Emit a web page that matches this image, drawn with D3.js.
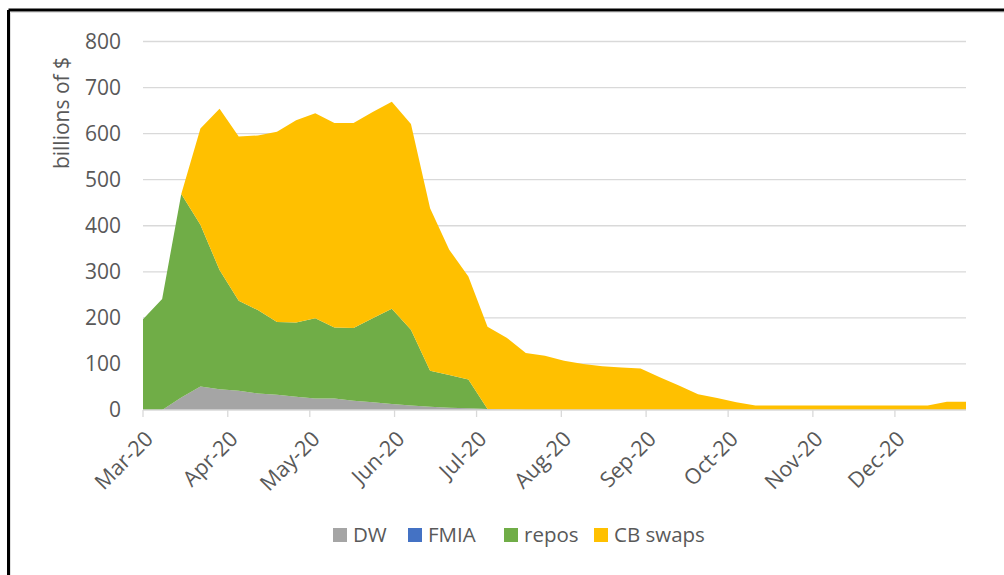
<!DOCTYPE html>
<html>
<head>
<meta charset="utf-8">
<script src="https://cdn.jsdelivr.net/npm/d3@7"></script>
<style>
  body { margin: 0; background: #fff; }
  svg { display: block; }
  text { font-family: "Open Sans", "DejaVu Sans", sans-serif; fill: #595959; }
</style>
</head>
<body>
<div id="chart"></div>
<script>
// weekly observations (Wednesdays), billions of $
var dates = [
  "2020-03-04","2020-03-11","2020-03-18","2020-03-25",
  "2020-04-01","2020-04-08","2020-04-15","2020-04-22","2020-04-29",
  "2020-05-06","2020-05-13","2020-05-20","2020-05-27",
  "2020-06-03","2020-06-10","2020-06-17","2020-06-24",
  "2020-07-01","2020-07-08","2020-07-15","2020-07-22","2020-07-29",
  "2020-08-05","2020-08-12","2020-08-19","2020-08-26",
  "2020-09-02","2020-09-09","2020-09-16","2020-09-23","2020-09-30",
  "2020-10-07","2020-10-14","2020-10-21","2020-10-28",
  "2020-11-04","2020-11-11","2020-11-18","2020-11-25",
  "2020-12-02","2020-12-09","2020-12-16","2020-12-23","2020-12-30"
];
var dw = [0, 0, 27, 51, 45, 42, 36, 33, 29, 25, 25, 20, 17, 13, 10, 7, 5, 4, 2, 1,
  0, 0, 0, 0, 0, 0, 0, 0, 0, 0, 0, 0, 0, 0, 0, 0, 0, 0, 0, 0, 0, 0, 0, 0];
var fmia = [0, 0, 0, 0, 0, 0, 0, 0, 0, 0, 0, 0, 0, 0, 0, 0, 0, 0, 0, 0,
  0, 0, 0, 0, 0, 0, 0, 0, 0, 0, 0, 0, 0, 0, 0, 0, 0, 0, 0, 0, 0, 0, 0, 0];
var repos = [197, 241, 442, 351, 259, 195, 181, 158, 161, 174, 154, 158, 182, 207, 164, 78, 71, 62, 0, 0,
  0, 0, 0, 0, 0, 0, 0, 0, 0, 0, 0, 0, 0, 0, 0, 0, 0, 0, 0, 0, 0, 0, 0, 0];
var swaps = [0, 0, 0, 209, 350, 357, 379, 413, 439, 445, 444, 445, 448, 449, 447, 353, 272, 224, 179, 156,
  124, 118, 107, 100, 95, 92, 90, 71, 53, 34, 26, 17, 10, 10, 10, 10, 10, 10, 10, 10, 10, 10, 18, 18];

var seriesNames = ["DW", "FMIA", "repos", "CB swaps"];
var seriesColors = ["#A5A5A5", "#4472C4", "#70AD47", "#FFC000"];
var yTicks = [0, 100, 200, 300, 400, 500, 600, 700, 800];
var tickDates = ["2020-03-04","2020-04-04","2020-05-04","2020-06-04","2020-07-04",
  "2020-08-04","2020-09-04","2020-10-04","2020-11-04","2020-12-04"];
var tickLabels = ["Mar-20","Apr-20","May-20","Jun-20","Jul-20","Aug-20","Sep-20","Oct-20","Nov-20","Dec-20"];

var width = 1004, height = 575;
var parse = d3.utcParse("%Y-%m-%d");

var rows = dates.map(function(d, i) {
  return {date: parse(d), "DW": dw[i], "FMIA": fmia[i], "repos": repos[i], "CB swaps": swaps[i]};
});

var svg = d3.select("#chart").append("svg")
  .attr("width", width)
  .attr("height", height);

// frame
svg.append("line").attr("x1", 8.5).attr("y1", 10).attr("x2", width).attr("y2", 10)
  .style("stroke", "#000").style("stroke-width", 3);
svg.append("line").attr("x1", 8.5).attr("y1", 10).attr("x2", 8.5).attr("y2", height)
  .style("stroke", "#000").style("stroke-width", 3);
svg.append("line").attr("x1", 10.5).attr("y1", 12.5).attr("x2", width).attr("y2", 12.5)
  .style("stroke", "#e0e0e0").style("stroke-width", 1);
svg.append("line").attr("x1", 10.5).attr("y1", 12.5).attr("x2", 10.5).attr("y2", height)
  .style("stroke", "#e0e0e0").style("stroke-width", 1);

var x = d3.scaleUtc()
  .domain(d3.extent(rows, function(d) { return d.date; }))
  .range([143, 966]);
var y = d3.scaleLinear().domain([0, 800]).range([410, 41.5]);

// gridlines
svg.append("g").selectAll("line")
  .data(yTicks.filter(function(v) { return v > 0; }))
  .enter().append("line")
  .attr("x1", 143).attr("x2", 966)
  .attr("y1", function(d) { return y(d); })
  .attr("y2", function(d) { return y(d); })
  .style("stroke", "#d9d9d9").style("stroke-width", 1.3);

// stacked areas
var stack = d3.stack().keys(seriesNames);
var layers = stack(rows);
var area = d3.area()
  .x(function(d) { return x(d.data.date); })
  .y0(function(d) { return y(d[0]); })
  .y1(function(d) { return y(d[1]); });

svg.append("g").selectAll("path")
  .data(layers)
  .enter().append("path")
  .attr("d", area)
  .attr("fill", function(d, i) { return seriesColors[i]; });

// x axis line and ticks
svg.append("line").attr("x1", 143).attr("x2", 966).attr("y1", 410).attr("y2", 410)
  .style("stroke", "#d9d9d9").style("stroke-width", 1.3);

var xt = svg.append("g").selectAll("g")
  .data(tickDates)
  .enter().append("g")
  .attr("transform", function(d) { return "translate(" + x(parse(d)) + ",0)"; });
xt.append("line").attr("y1", 410).attr("y2", 417)
  .style("stroke", "#d9d9d9").style("stroke-width", 1.3);
xt.append("text")
  .attr("transform", "translate(6,435) rotate(-45)")
  .attr("text-anchor", "end")
  .attr("dy", "0.35em")
  .style("font-size", "21.5px")
  .text(function(d, i) { return tickLabels[i]; });

// y axis labels
svg.append("g").selectAll("text")
  .data(yTicks)
  .enter().append("text")
  .attr("x", 121)
  .attr("y", function(d) { return y(d); })
  .attr("dy", "0.35em")
  .attr("text-anchor", "end")
  .style("font-size", "21px")
  .text(function(d) { return d; });

svg.append("text")
  .attr("transform", "translate(62,113) rotate(-90)")
  .attr("text-anchor", "middle")
  .attr("dy", "0.35em")
  .style("font-size", "21px")
  .text("billions of $");

// legend
var legendX = [333, 408, 504, 594];
var legend = svg.append("g").selectAll("g")
  .data(seriesNames)
  .enter().append("g")
  .attr("transform", function(d, i) { return "translate(" + legendX[i] + ",535)"; });
legend.append("rect")
  .attr("x", 0).attr("y", -7)
  .attr("width", 14).attr("height", 14)
  .attr("fill", function(d, i) { return seriesColors[i]; });
legend.append("text")
  .attr("x", 20)
  .attr("dy", "0.35em")
  .style("font-size", "20.5px")
  .text(function(d) { return d; });
</script>
</body>
</html>
